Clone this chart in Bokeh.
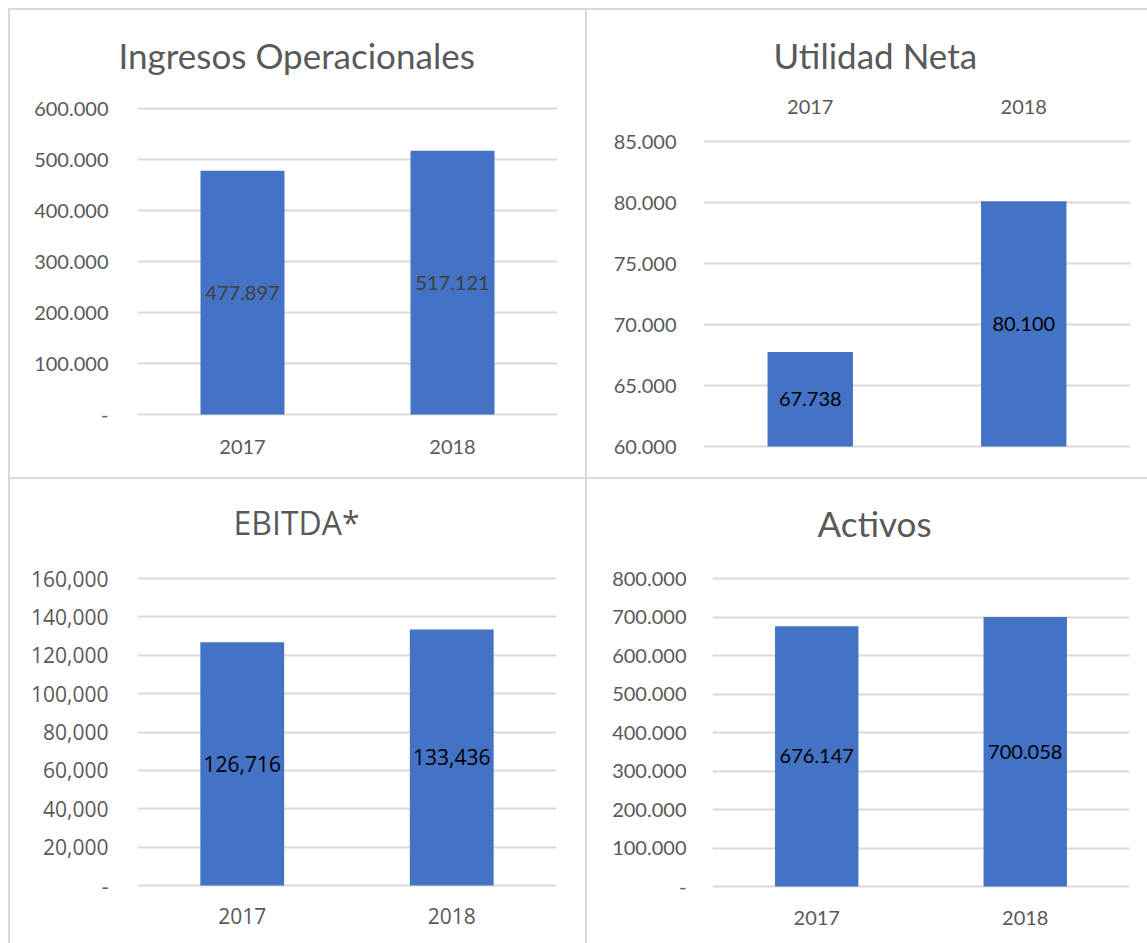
from bokeh.plotting import figure
from bokeh.models import FactorRange, Range1d, FixedTicker, ColumnDataSource, Title
from bokeh.core.properties import value
from bokeh.embed import file_html
from bokeh.resources import INLINE

years = ["2017", "2018"]

ingresos_title = "Ingresos Operacionales"
ingresos = [477897, 517121]
ingresos_labels = ["477.897", "517.121"]
ingresos_ticks = [0, 100000, 200000, 300000, 400000, 500000, 600000]
ingresos_tick_labels = ["-", "100.000", "200.000", "300.000", "400.000", "500.000", "600.000"]

utilidad_title = "Utilidad Neta"
utilidad = [67738, 80100]
utilidad_labels = ["67.738", "80.100"]
utilidad_ticks = [60000, 65000, 70000, 75000, 80000, 85000]
utilidad_tick_labels = ["60.000", "65.000", "70.000", "75.000", "80.000", "85.000"]

ebitda_title = "EBITDA*"
ebitda = [126716, 133436]
ebitda_labels = ["126,716", "133,436"]
ebitda_ticks = [0, 20000, 40000, 60000, 80000, 100000, 120000, 140000, 160000]
ebitda_tick_labels = ["-", "20,000", "40,000", "60,000", "80,000", "100,000", "120,000", "140,000", "160,000"]

activos_title = "Activos"
activos = [676147, 700058]
activos_labels = ["676.147", "700.058"]
activos_ticks = [0, 100000, 200000, 300000, 400000, 500000, 600000, 700000, 800000]
activos_tick_labels = ["-", "100.000", "200.000", "300.000", "400.000", "500.000", "600.000", "700.000", "800.000"]

BAR = "#4472C4"
GRID = "#d9d9d9"
TXT = "#595959"
PAD = 2  # px of room so the end gridlines are not clipped


def panel(title, vals, labels, ticks, tick_labels, width, height, borders, pos,
          x_loc="below", font="Lato", title_size="35px", tick_size="20px",
          label_color="#000000", title_offset=0, title_gap=30, xstand=21, ystand=29):
    l, r, t, b = borders
    fh = height - t - b
    span = ticks[-1] - ticks[0]
    y0 = ticks[0] - span * PAD / fh
    y1 = ticks[-1] + span * PAD / fh
    p = figure(width=width, height=height, x_range=FactorRange(factors=years, range_padding=0),
               y_range=Range1d(y0, y1), x_axis_location=x_loc,
               output_backend="svg", toolbar_location=None, tools="",
               min_border_left=l, min_border_right=r,
               min_border_top=t - PAD, min_border_bottom=b - PAD,
               styles={"position": "absolute", "left": f"{pos[0]}px", "top": f"{pos[1]}px",
                       "outline": f"2px solid {GRID}"})
    p.outline_line_color = None
    p.background_fill_color = "white"
    p.border_fill_color = "white"
    base = ticks[0]
    src = ColumnDataSource(dict(x=years, top=vals, bottom=[base] * len(vals),
                                mid=[(base + v) / 2 for v in vals], lab=labels))
    p.vbar(x="x", top="top", bottom="bottom", width=0.4, source=src,
           fill_color=BAR, line_color=None)
    p.text(x="x", y="mid", text="lab", source=src, text_align="center", text_baseline="middle",
           text_font=value(font), text_font_size=tick_size, text_color=label_color)

    p.xgrid.grid_line_color = None
    p.ygrid.grid_line_color = GRID
    p.ygrid.grid_line_width = 2
    p.yaxis.ticker = FixedTicker(ticks=ticks)
    p.yaxis.major_label_overrides = {tk: lb for tk, lb in zip(ticks, tick_labels)}
    for ax in (p.xaxis[0], p.yaxis[0]):
        ax.axis_line_color = None
        ax.major_tick_line_color = None
        ax.minor_tick_line_color = None
        ax.major_tick_out = 0
        ax.major_tick_in = 0
        ax.major_label_text_font = font
        ax.major_label_text_font_size = tick_size
        ax.major_label_text_color = TXT
    p.xaxis.major_label_standoff = xstand + PAD
    p.yaxis.major_label_standoff = ystand

    p.title.text = ""
    # white (invisible on white) spacer between the frame (or top axis) and the chart title
    p.add_layout(Title(text=".", text_font_size="2px", text_color="white", standoff=title_gap), "above")
    p.add_layout(Title(text=title, align="left", offset=title_offset, standoff=0,
                       text_font=font, text_font_size=title_size, text_font_style="normal",
                       text_color=TXT), "above")
    return p


p1 = panel(ingresos_title, ingresos, ingresos_labels, ingresos_ticks, ingresos_tick_labels,
           575, 467, (127, 28, 98, 63), (10, 10), label_color="#404040",
           title_offset=-19, title_gap=28)
p2 = panel(utilidad_title, utilidad, utilidad_labels, utilidad_ticks, utilidad_tick_labels,
           560, 467, (116, 17, 131, 31), (587, 10), x_loc="above",
           title_offset=70, title_gap=18, xstand=24, ystand=27)
p3 = panel(ebitda_title, ebitda, ebitda_labels, ebitda_ticks, ebitda_tick_labels,
           575, 464, (127, 29, 99, 58), (10, 479), font="Open Sans", title_size="32px",
           tick_size="21px", title_offset=96, title_gap=30, xstand=18, ystand=29)
p4 = panel(activos_title, activos, activos_labels, activos_ticks, activos_tick_labels,
           560, 464, (125, 18, 99, 57), (587, 479),
           title_offset=105, title_gap=30, xstand=20, ystand=26)

open("out.html", "w").write(file_html([p1, p2, p3, p4], INLINE))
